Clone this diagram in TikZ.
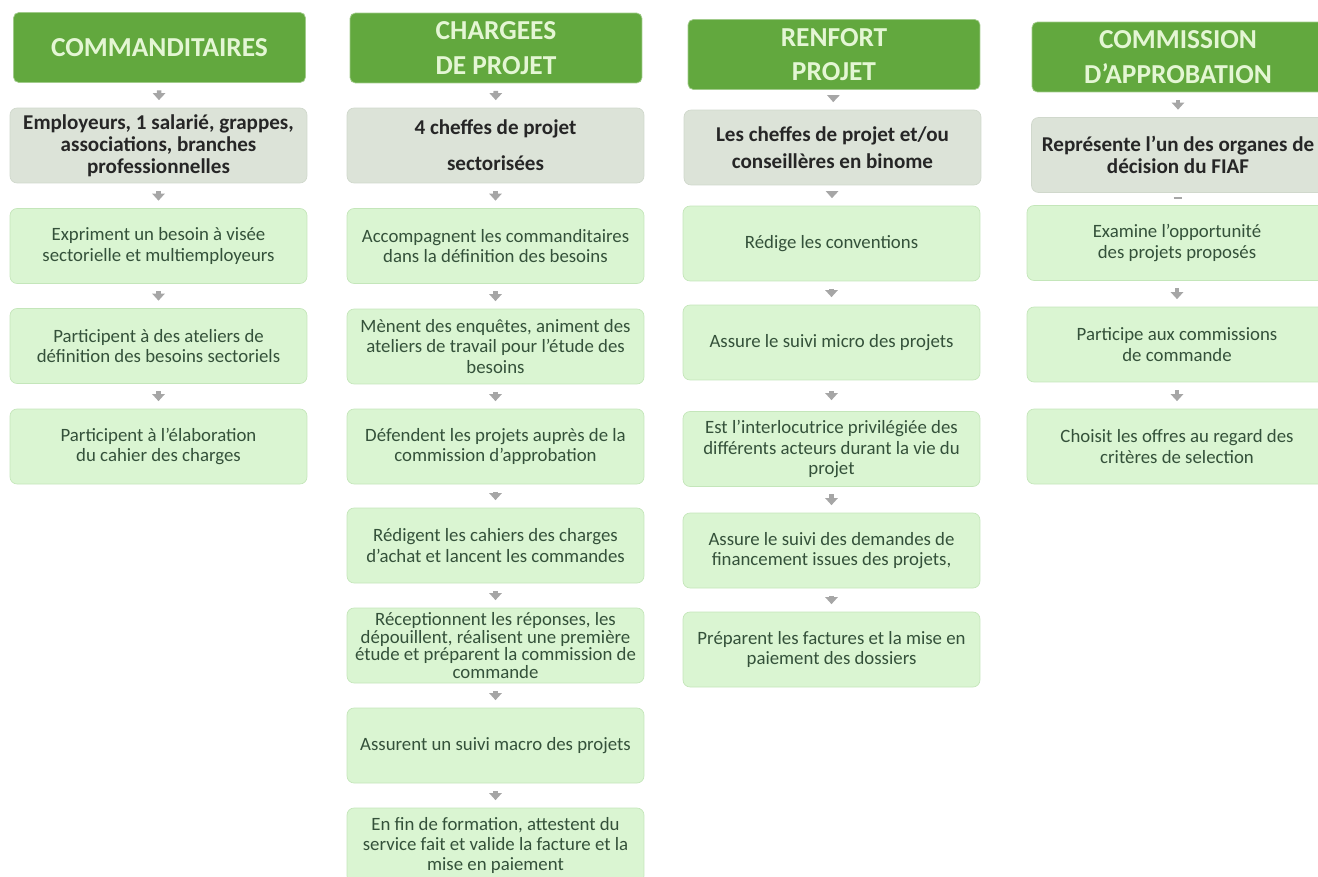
\documentclass[tikz,border=0pt]{standalone}
\usepackage{fontspec}
\setmainfont{Carlito}
\usetikzlibrary{arrows.meta}
\definecolor{headgreen}{HTML}{62A83E}
\definecolor{headtext}{HTML}{E4F6D4}
\definecolor{rolegrey}{HTML}{DCE3D8}
\definecolor{roleline}{HTML}{D0D8CC}
\definecolor{taskgreen}{HTML}{DAF5D2}
\definecolor{taskline}{HTML}{C4E6BA}
\definecolor{tasktext}{HTML}{34513A}
\definecolor{arrowgrey}{HTML}{A6A6A6}
\tikzset{
  >={Triangle[width=7pt,length=4pt]},
  header/.style={rounded corners=3pt, fill=headgreen, draw=headgreen!60, text=headtext,
    minimum width=5.84cm, minimum height=1.4cm, align=center,
    font=\fontsize{15.6}{19.5}\selectfont\bfseries},
  role/.style={rounded corners=4pt, fill=rolegrey, draw=roleline, text=black!85,
    minimum width=5.94cm, minimum height=1.5cm, align=center, inner ysep=0pt,
    font=\fontsize{12}{12.5}\selectfont\bfseries},
  task/.style={rounded corners=4pt, fill=taskgreen, draw=taskline, text=tasktext,
    minimum width=5.94cm, minimum height=1.5cm, align=center, inner ysep=0pt,
    font=\fontsize{10.7}{11.5}\selectfont},
  flow/.style={->, draw=arrowgrey, line width=2.6pt, shorten <=0.15cm, shorten >=0.15cm}
}
\begin{document}
\begin{tikzpicture}[x=0.02cm, y=-0.02cm]
		% Frame
		\useasboundingbox (0,0) rectangle (1318,876);
		\clip (0,0) rectangle (1318,876);

		% Commanditaires
		\node[header] (cmdh) at (159.5,47.5) {COMMANDITAIRES};
		\node[role] (cmdr) at (158.5,145.5) {Employeurs, 1 salarié, grappes,\\associations, branches\\professionnelles};
		\node[task] (cmd1) at (158.5,246) {Expriment un besoin à visée\\sectorielle et multiemployeurs};
		\node[task] (cmd2) at (158.5,346) {Participent à des ateliers de\\définition des besoins sectoriels};
		\node[task] (cmd3) at (158.5,446.5) {Participent à l'élaboration\\du cahier des charges};
		\draw[flow] (cmdh) -- (cmdr);
		\draw[flow] (cmdr) -- (cmd1);
		\draw[flow] (cmd1) -- (cmd2);
		\draw[flow] (cmd2) -- (cmd3);

		% Chargees de projet
		\node[header] (chgh) at (496,48) {CHARGEES\\DE PROJET};
		\node[role] (chgr) at (495.5,145.5) {4 cheffes de projet\\[8pt]sectorisées};
		\node[task] (chg1) at (495.5,246) {Accompagnent les commanditaires\\dans la définition des besoins};
		\node[task] (chg2) at (495.5,346.5) {Mènent des enquêtes, animent des\\ateliers de travail pour l'étude des\\besoins};
		\node[task] (chg3) at (495.5,446.5) {Défendent les projets auprès de la\\commission d'approbation};
		\node[task] (chg4) at (495.5,545.5) {Rédigent les cahiers des charges\\d'achat et lancent les commandes};
		\node[task, font=\fontsize{10.7}{10}\selectfont] (chg5) at (495.5,645.5) {Réceptionnent les réponses, les\\dépouillent, réalisent une première\\étude et préparent la commission de\\commande};
		\node[task] (chg6) at (495.5,745.5) {Assurent un suivi macro des projets};
		\node[task] (chg7) at (495.5,845.5) {En fin de formation, attestent du\\service fait et valide la facture et la\\mise en paiement};
		\draw[flow] (chgh) -- (chgr);
		\draw[flow] (chgr) -- (chg1);
		\draw[flow] (chg1) -- (chg2);
		\draw[flow] (chg2) -- (chg3);
		\draw[flow] (chg3) -- (chg4);
		\draw[flow] (chg4) -- (chg5);
		\draw[flow] (chg5) -- (chg6);
		\draw[flow] (chg6) -- (chg7);

		% Renfort projet
		\node[header] (renh) at (834,54.5) {RENFORT\\PROJET};
		\node[role] (renr) at (832.5,147.5) {Les cheffes de projet et/ou\\[3pt]conseillères en binome};
		\node[task] (ren1) at (831.5,243.5) {Rédige les conventions};
		\node[task] (ren2) at (831.5,342.5) {Assure le suivi micro des projets};
		\node[task] (ren3) at (831.5,449) {Est l'interlocutrice privilégiée des\\différents acteurs durant la vie du\\projet};
		\node[task] (ren4) at (831.5,550.5) {Assure le suivi des demandes de\\financement issues des projets,};
		\node[task] (ren5) at (831.5,649.5) {Préparent les factures et la mise en\\paiement des dossiers};
		\draw[flow] (renh) -- (renr);
		\draw[flow] (renr) -- (ren1);
		\draw[flow] (ren1) -- (ren2);
		\draw[flow, shorten <=0.22cm, shorten >=0.22cm] (ren2) -- (ren3);
		\draw[flow] (ren3) -- (ren4);
		\draw[flow] (ren4) -- (ren5);

		% Commission d'approbation
		\node[header] (comh) at (1178,57) {COMMISSION\\D'APPROBATION};
		\node[role, minimum width=5.86cm] (comr) at (1178,155) {Représente l'un des organes de\\décision du FIAF};
		\node[task, minimum width=6cm] (com1) at (1177,243) {Examine l'opportunité\\des projets proposés};
		\node[task, minimum width=6cm] (com2) at (1177,344.5) {Participe aux commissions\\de commande};
		\node[task, minimum width=6cm] (com3) at (1177,446.5) {Choisit les offres au regard des\\critères de selection};
		\coordinate (comdash) at ([yshift=-3pt]comr.south);
		\draw[flow] (comh) -- (comr);
		\draw[arrowgrey, line width=0.8pt] ([xshift=-2.5pt]comdash) -- ([xshift=2.5pt]comdash);
		\draw[flow] (com1) -- (com2);
		\draw[flow] (com2) -- (com3);
\end{tikzpicture}
\end{document}
